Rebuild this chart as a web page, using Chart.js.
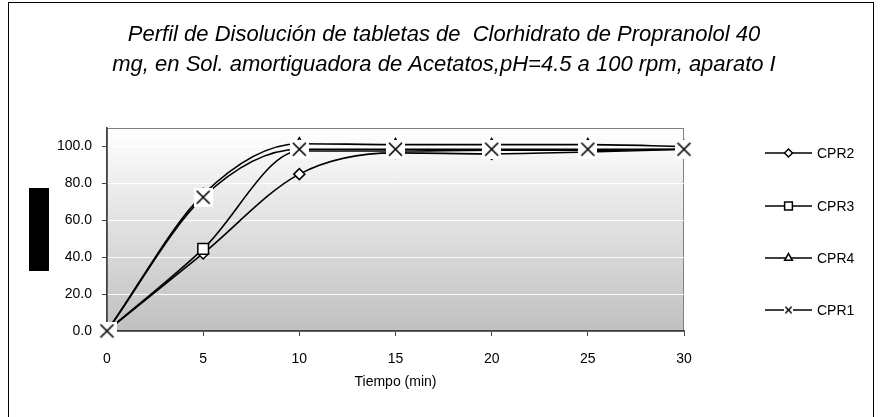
<!DOCTYPE html>
<html>
<head>
<meta charset="utf-8">
<script src="https://cdn.jsdelivr.net/npm/chart.js@4/dist/chart.umd.min.js"></script>
<style>
    html, body { margin: 0; padding: 0; background: #fff; }
    #wrap { position: relative; width: 882px; height: 417px; }
    #frame { position: absolute; left: 8px; top: 2px; width: 866px; height: 430px; border: 1px solid #000; box-sizing: border-box; }
    #chart { position: absolute; left: 0; top: 0; }
</style>
</head>
<body>
<div id="wrap">
    <div id="frame"></div>
    <canvas id="chart" width="882" height="417"></canvas>
</div>
<script>
// time points (min)
const tiempos = [0, 5, 10, 15, 20, 25, 30];

// % disuelto per lot
const cpr2 = [0, 42.0, 85.0, 96.5, 96.0, 97.0, 98.5];
const cpr3 = [0, 44.5, 97.5, 97.5, 98.0, 98.0, 98.5];
const cpr4 = [0, 74.0, 101.5, 101.0, 101.0, 101.0, 100.0];
const cpr1 = [0, 72.5, 98.5, 98.5, 98.5, 98.5, 98.5];

const seriesNames = ['CPR2', 'CPR3', 'CPR4', 'CPR1'];
const titleLines = [
    'Perfil de Disolución de tabletas de  Clorhidrato de Propranolol 40',
    'mg, en Sol. amortiguadora de Acetatos,pH=4.5 a 100 rpm, aparato I'
];

const FONT = "'Liberation Sans', Arial, sans-serif";

// X marker with the white box behind it (like the Excel one)
function makeCross(box, arm, lw) {
    const c = document.createElement('canvas');
    c.width = box; c.height = box;
    const g = c.getContext('2d');
    g.fillStyle = '#fff';
    g.fillRect(0, 0, box, box);
    g.strokeStyle = '#000';
    g.lineWidth = lw;
    const m = box / 2;
    g.beginPath();
    g.moveTo(m - arm, m - arm); g.lineTo(m + arm, m + arm);
    g.moveTo(m + arm, m - arm); g.lineTo(m - arm, m + arm);
    g.stroke();
    return c;
}
const crossBig = makeCross(19, 6.5, 1.6);
const crossSmall = makeCross(9, 3.2, 1.4);

function pts(ys) {
    return tiempos.map((t, i) => ({x: t, y: ys[i]}));
}

const plotBackground = {
    id: 'plotBackground',
    beforeDraw(chart) {
        const {ctx, chartArea: a} = chart;
        const grad = ctx.createLinearGradient(0, a.top, 0, a.bottom);
        grad.addColorStop(0, '#ffffff');
        grad.addColorStop(1, '#c0c0c0');
        ctx.save();
        ctx.fillStyle = grad;
        ctx.fillRect(a.left, a.top, a.right - a.left, a.bottom - a.top);
        ctx.strokeStyle = '#808080';
        ctx.lineWidth = 1;
        ctx.strokeRect(a.left + 0.5, a.top + 0.5, a.right - a.left - 1, a.bottom - a.top);
        // y axis title box (renders as a solid block in the original)
        ctx.fillStyle = '#000';
        ctx.fillRect(29, 188, 20, 83);
        // chart title
        ctx.font = 'italic 22px ' + FONT;
        ctx.textAlign = 'center';
        ctx.textBaseline = 'middle';
        ctx.fillText(titleLines[0], 444, 35);
        ctx.fillText(titleLines[1], 444, 65);
        ctx.restore();
    }
};

const sideLegend = {
    id: 'sideLegend',
    afterDraw(chart) {
        const ctx = chart.ctx;
        const rows = [153, 206, 258, 310];
        const marks = [
            {pointStyle: 'rectRot', radius: 4, rotation: 0, borderWidth: 1.5},
            {pointStyle: 'rect', radius: 5.5, rotation: 0, borderWidth: 1.5},
            {pointStyle: 'triangle', radius: 4.5, rotation: 0, borderWidth: 1.5},
            {pointStyle: crossSmall, radius: 4, rotation: 0, borderWidth: 1}
        ];
        ctx.save();
        rows.forEach((y, i) => {
            ctx.strokeStyle = '#000';
            ctx.lineWidth = 1.6;
            ctx.beginPath();
            ctx.moveTo(765, y); ctx.lineTo(812, y);
            ctx.stroke();
            ctx.fillStyle = '#fff';
            ctx.strokeStyle = '#000';
            ctx.lineWidth = 1.5;
            Chart.helpers.drawPoint(ctx, marks[i], 788.5, y);
            ctx.fillStyle = '#000';
            ctx.font = '14px ' + FONT;
            ctx.textAlign = 'left';
            ctx.textBaseline = 'middle';
            ctx.fillText(seriesNames[i], 817, y + 1);
        });
        ctx.restore();
    }
};

function lineSet(label, ys, style, radius, order) {
    return {
        label: label,
        data: pts(ys),
        borderColor: '#000',
        borderWidth: 1.6,
        backgroundColor: '#fff',
        pointStyle: style,
        pointRadius: radius,
        pointHoverRadius: radius,
        pointBackgroundColor: '#fff',
        pointBorderColor: '#000',
        pointBorderWidth: 1.5,
        cubicInterpolationMode: 'monotone',
        fill: false,
        clip: false,
        order: order
    };
}

new Chart('chart', {
    type: 'line',
    data: {
        datasets: [
            lineSet('CPR2', cpr2, 'rectRot', 5.5, 4),
            lineSet('CPR3', cpr3, 'rect', 7.5, 3),
            lineSet('CPR4', cpr4, 'triangle', 6, 2),
            lineSet('CPR1', cpr1, crossBig, 9, 1)
        ]
    },
    options: {
        responsive: false,
        devicePixelRatio: 1,
        animation: false,
        events: [],
        layout: {
            padding: {left: 0, right: 198, top: 128, bottom: 20}
        },
        plugins: {
            legend: {display: false},
            tooltip: {enabled: false},
            title: {display: false}
        },
        scales: {
            x: {
                type: 'linear',
                min: 0,
                max: 30,
                afterFit: (s) => { s.height = 66; },
                ticks: {
                    stepSize: 5,
                    color: '#000',
                    padding: 15,
                    maxRotation: 0,
                    font: {family: FONT, size: 14}
                },
                grid: {
                    drawOnChartArea: false,
                    drawTicks: true,
                    tickLength: 5,
                    tickColor: '#404040'
                },
                border: {color: '#404040', width: 1.5},
                title: {
                    display: true,
                    text: 'Tiempo (min)',
                    color: '#000',
                    font: {family: FONT, size: 14},
                    padding: {top: 0, bottom: 6}
                }
            },
            y: {
                min: 0,
                max: 110,
                afterFit: (s) => { s.width = 107; },
                ticks: {
                    stepSize: 20,
                    color: '#000',
                    padding: 10,
                    font: {family: FONT, size: 14},
                    callback: (v) => v <= 100 ? v.toFixed(1) : ''
                },
                grid: {
                    color: (c) => (c.tick && c.tick.value > 0 && c.tick.value <= 100) ? 'rgba(255,255,255,0.9)' : 'rgba(0,0,0,0)',
                    tickColor: (c) => (c.tick && c.tick.value <= 100) ? '#404040' : 'rgba(0,0,0,0)',
                    tickLength: 5,
                    lineWidth: 1
                },
                border: {color: '#404040', width: 1.5}
            }
        }
    },
    plugins: [plotBackground, sideLegend]
});
</script>
</body>
</html>
